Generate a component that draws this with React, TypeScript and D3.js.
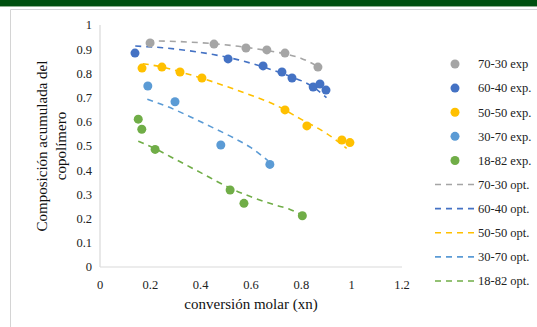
import { useEffect, useRef } from 'react'
import * as d3 from 'd3'

const W = 537
const H = 327

// experimental points [conversion, composition]
const exp7030 = [[0.199, 0.926], [0.453, 0.921], [0.58, 0.905], [0.663, 0.897], [0.735, 0.884], [0.866, 0.826]]
const exp6040 = [[0.139, 0.884], [0.509, 0.86], [0.648, 0.831], [0.723, 0.806], [0.763, 0.781], [0.847, 0.744], [0.874, 0.756], [0.898, 0.731]]
const exp5050 = [[0.167, 0.822], [0.246, 0.826], [0.318, 0.806], [0.405, 0.781], [0.735, 0.649], [0.822, 0.583], [0.961, 0.525], [0.993, 0.514]]
const exp3070 = [[0.19, 0.748], [0.298, 0.683], [0.48, 0.504], [0.675, 0.424]]
const exp1882 = [[0.152, 0.611], [0.166, 0.569], [0.219, 0.486], [0.517, 0.318], [0.572, 0.263], [0.804, 0.212]]

// optimised model curves
const opt7030 = [[0.19, 0.935], [0.3, 0.932], [0.45, 0.923], [0.55, 0.912], [0.65, 0.897], [0.75, 0.877], [0.8, 0.862], [0.87, 0.826]]
const opt6040 = [[0.14, 0.913], [0.25, 0.906], [0.35, 0.894], [0.45, 0.878], [0.55, 0.856], [0.65, 0.826], [0.75, 0.79], [0.85, 0.742], [0.9, 0.7]]
const opt5050 = [[0.17, 0.84], [0.25, 0.826], [0.33, 0.803], [0.42, 0.775], [0.5, 0.747], [0.6, 0.71], [0.7, 0.668], [0.8, 0.61], [0.9, 0.552], [0.98, 0.49]]
const opt3070 = [[0.188, 0.693], [0.27, 0.662], [0.358, 0.621], [0.44, 0.58], [0.528, 0.535], [0.6, 0.493], [0.667, 0.44]]
const opt1882 = [[0.152, 0.52], [0.22, 0.488], [0.3, 0.445], [0.4, 0.39], [0.517, 0.326], [0.6, 0.29], [0.7, 0.255], [0.755, 0.238], [0.8, 0.215]]

const COLORS = ['#A5A5A5', '#4472C4', '#FFC000', '#5B9BD5', '#70AD47']
const expSeries = [exp7030, exp6040, exp5050, exp3070, exp1882]
const optSeries = [opt7030, opt6040, opt5050, opt3070, opt1882]
const legendLabels = ['70-30 exp', '60-40 exp.', '50-50 exp.', '30-70 exp.', '18-82 exp.',
  '70-30 opt.', '60-40 opt.', '50-50 opt.', '30-70 opt.', '18-82 opt.']
const xTicks = [0, 0.2, 0.4, 0.6, 0.8, 1, 1.2]
const yTicks = [0, 0.1, 0.2, 0.3, 0.4, 0.5, 0.6, 0.7, 0.8, 0.9, 1]

export default function App() {
  const ref = useRef<SVGSVGElement>(null)

  useEffect(() => {
    const svg = d3.select(ref.current!)
    svg.selectAll('*').remove()

    // header band and panel frame
    svg.append('rect').attr('x', 0).attr('y', 0).attr('width', W).attr('height', 6).attr('fill', '#00500F')
    svg.append('rect').attr('x', 0).attr('y', 6).attr('width', W).attr('height', 1).attr('fill', '#8fb08f')
    svg.append('path').attr('d', `M10.5,${H} V9.5 H${W}`).attr('fill', 'none').attr('stroke', '#d4d4d4')

    const x = d3.scaleLinear().domain([0, 1.2]).range([100, 402])
    const y = d3.scaleLinear().domain([0, 1]).range([267, 25])

    const g = svg.append('g').style('font-family', 'Liberation Serif, Times New Roman, serif')
    g.append('line').attr('x1', x(0)).attr('x2', x(0)).attr('y1', y(1)).attr('y2', y(0))
      .attr('stroke', '#d9d9d9').attr('stroke-width', 1.2)
    g.append('line').attr('x1', x(0)).attr('x2', x(1.2)).attr('y1', y(0)).attr('y2', y(0))
      .attr('stroke', '#d9d9d9').attr('stroke-width', 1.2)

    g.selectAll('text.yt').data(yTicks).join('text').attr('class', 'yt')
      .attr('x', x(0) - 8).attr('y', (d) => y(d)).attr('dy', '0.35em')
      .attr('text-anchor', 'end').attr('font-size', 12.5).attr('fill', '#222')
      .text((d) => String(d))
    g.selectAll('text.xt').data(xTicks).join('text').attr('class', 'xt')
      .attr('x', (d) => x(d)).attr('y', 289)
      .attr('text-anchor', 'middle').attr('font-size', 12.5).attr('fill', '#222')
      .text((d) => String(d))

    g.append('text').attr('x', 251).attr('y', 309).attr('text-anchor', 'middle')
      .attr('font-size', 15).attr('fill', '#111').text('conversión molar (xn)')
    const yt = g.append('text').attr('transform', 'translate(0,146) rotate(-90)')
      .attr('text-anchor', 'middle').attr('font-size', 15).attr('fill', '#111')
    yt.append('tspan').attr('x', 0).attr('y', 47).text('Composición acumulada del')
    yt.append('tspan').attr('x', 0).attr('y', 66).text('copolímero')

    const line = d3.line<number[]>().x((d) => x(d[0])).y((d) => y(d[1])).curve(d3.curveMonotoneX)
    optSeries.forEach((s, i) => {
      g.append('path').attr('d', line(s)).attr('fill', 'none').attr('stroke', COLORS[i])
        .attr('stroke-width', 1.6).attr('stroke-dasharray', '6,5')
    })
    expSeries.forEach((s, i) => {
      g.selectAll(`circle.e${i}`).data(s).join('circle').attr('class', `e${i}`)
        .attr('cx', (d) => x(d[0])).attr('cy', (d) => y(d[1])).attr('r', 4.5).attr('fill', COLORS[i])
    })

    // legend
    const ly = d3.scaleLinear().domain([0, 9]).range([64, 281])
    legendLabels.forEach((lab, i) => {
      const yy = ly(i)
      const c = COLORS[i % 5]
      if (i < 5) {
        g.append('circle').attr('cx', 455).attr('cy', yy).attr('r', 4.5).attr('fill', c)
      } else {
        g.append('line').attr('x1', 435).attr('x2', 474).attr('y1', yy).attr('y2', yy)
          .attr('stroke', c).attr('stroke-width', 1.6).attr('stroke-dasharray', '6,5')
      }
      g.append('text').attr('x', 478).attr('y', yy).attr('dy', '0.35em')
        .attr('font-size', 12.5).attr('fill', '#222').text(lab)
    })
  }, [])

  return (
    <div style={{ position: 'fixed', left: 0, top: 0, width: W, height: H, background: '#fff' }}>
      <svg ref={ref} width={W} height={H} style={{ display: 'block' }} />
    </div>
  )
}
